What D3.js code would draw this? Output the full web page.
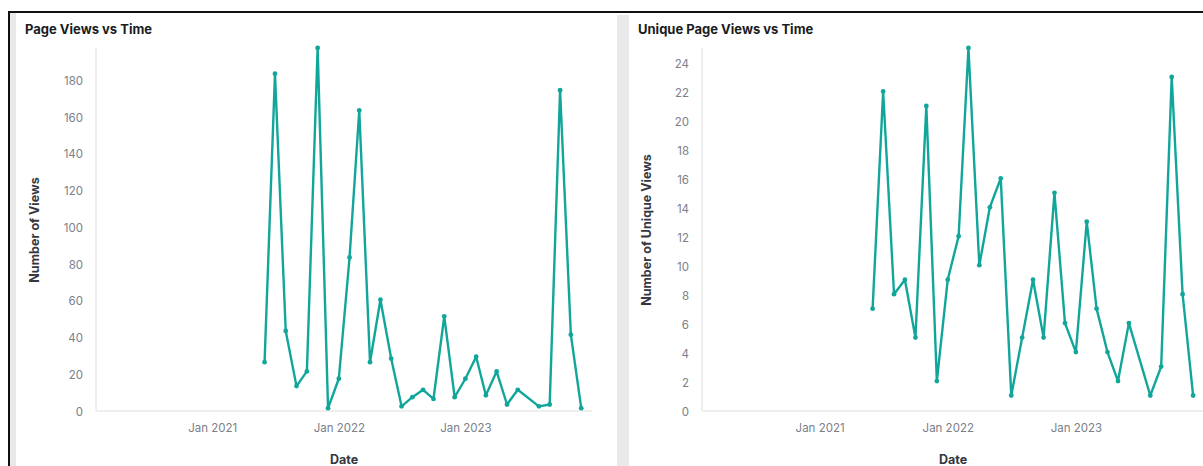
<!DOCTYPE html>
<html>
<head>
<meta charset="utf-8">
<script src="https://cdn.jsdelivr.net/npm/d3@7"></script>
<style>
  html, body { margin: 0; padding: 0; background: #fff; }
  svg { display: block; font-family: Inter, "Noto Sans", sans-serif; }
</style>
</head>
<body>
<svg id="chart" width="1203" height="466"></svg>
<script>
// ---- data ----
const months = [
  "2021-06","2021-07","2021-08","2021-09","2021-10","2021-11","2021-12",
  "2022-01","2022-02","2022-03","2022-04","2022-05","2022-06","2022-07",
  "2022-08","2022-09","2022-10","2022-11","2022-12","2023-01","2023-02",
  "2023-03","2023-04","2023-05","2023-06",
  "2023-08","2023-09","2023-10","2023-11","2023-12"
];
const pageViews = [
  26, 183, 43, 13, 21, 197, 1,
  17, 83, 163, 26, 60, 28, 2,
  7, 11, 6, 51, 7, 17, 29,
  8, 21, 3, 11,
  2, 3, 174, 41, 1
];
const uniqueViews = [
  7, 22, 8, 9, 5, 21, 2,
  9, 12, 25, 10, 14, 16, 1,
  5, 9, 5, 15, 6, 4, 13,
  7, 4, 2, 6,
  1, 3, 23, 8, 1
];
const xDomain = ["2020-02-01", "2024-01-01"];
const xTickDates = ["2021-01-01", "2022-01-01", "2023-01-01"];
const pvTicks = [0, 20, 40, 60, 80, 100, 120, 140, 160, 180];
const uvTicks = [0, 2, 4, 6, 8, 10, 12, 14, 16, 18, 20, 22, 24];

const parseMonth = d3.timeParse("%Y-%m");
const parseDay = d3.timeParse("%Y-%m-%d");
const fmt = d3.timeFormat("%b %Y");
const teal = "#12a69b";

const svg = d3.select("#chart");

// frame / backgrounds
svg.append("rect").attr("x", 10).attr("y", 13).attr("width", 6).attr("height", 453).attr("fill", "#e9e9ec");
svg.append("rect").attr("x", 617).attr("y", 15).attr("width", 12).attr("height", 451).attr("fill", "#e9e9ec");
svg.append("rect").attr("x", 16).attr("y", 15).attr("width", 601).attr("height", 470).attr("rx", 6).attr("fill", "#fff");
svg.append("rect").attr("x", 629).attr("y", 15).attr("width", 600).attr("height", 470).attr("rx", 6).attr("fill", "#fff");
svg.append("line").attr("x1", 8).attr("x2", 1203).attr("y1", 12).attr("y2", 12).attr("stroke", "#111").attr("stroke-width", 2);
svg.append("line").attr("x1", 9).attr("x2", 9).attr("y1", 11).attr("y2", 466).attr("stroke", "#111").attr("stroke-width", 2);

function drawPanel(cfg) {
  const g = svg.append("g");
  const x = d3.scaleTime().domain(xDomain.map(parseDay)).range([cfg.x0, cfg.x1]);
  const y = d3.scaleLinear().domain([0, cfg.yMax]).range([410, 48]);

  g.append("text").attr("x", cfg.titleX).attr("y", 34)
    .attr("font-size", 13).attr("font-weight", 700).attr("fill", "#1a1c21")
    .text(cfg.title);

  // axis lines
  g.append("line").attr("x1", cfg.x0).attr("x2", cfg.x0).attr("y1", 48).attr("y2", 411)
    .attr("stroke", "#eeeeee").attr("stroke-width", 2);
  g.append("line").attr("x1", cfg.x0).attr("x2", cfg.x1).attr("y1", 411).attr("y2", 411)
    .attr("stroke", "#eeeeee").attr("stroke-width", 2);

  // y axis
  const ya = g.append("g").attr("transform", `translate(${cfg.x0 - 13},1.5)`)
    .call(d3.axisLeft(y).tickValues(cfg.ticks).tickSize(0).tickPadding(0));
  ya.select(".domain").remove();
  ya.selectAll("text").attr("font-size", 11.5).attr("fill", "#7b808a").attr("font-family", "Inter, sans-serif");

  // x axis
  const xa = g.append("g").attr("transform", "translate(0,424)")
    .call(d3.axisBottom(x).tickValues(xTickDates.map(parseDay)).tickFormat(fmt).tickSize(0).tickPadding(0));
  xa.select(".domain").remove();
  xa.selectAll("text").attr("font-size", 11.5).attr("fill", "#7b808a").attr("font-family", "Inter, sans-serif");

  // axis titles
  g.append("text").attr("transform", `translate(${cfg.yTitleX},230) rotate(-90)`)
    .attr("text-anchor", "middle").attr("font-size", 12.5).attr("font-weight", 700).attr("fill", "#343741")
    .text(cfg.yTitle);
  g.append("text").attr("x", (cfg.x0 + cfg.x1) / 2).attr("y", 464)
    .attr("text-anchor", "middle").attr("font-size", 12.5).attr("font-weight", 700).attr("fill", "#343741")
    .text("Date");

  const data = months.map((m, i) => ({ d: parseMonth(m), v: cfg.values[i] }));
  g.append("path").datum(data)
    .attr("fill", "none").attr("stroke", teal).attr("stroke-width", 2.4).attr("stroke-linejoin", "round")
    .attr("d", d3.line().x(d => x(d.d)).y(d => y(d.v)));
  g.selectAll("circle").data(data).join("circle")
    .attr("cx", d => x(d.d)).attr("cy", d => y(d.v)).attr("r", 2.4).attr("fill", teal);
}

drawPanel({ title: "Page Views vs Time", titleX: 25, x0: 96, x1: 592, yMax: 197,
  ticks: pvTicks, values: pageViews, yTitle: "Number of Views", yTitleX: 39 });
drawPanel({ title: "Unique Page Views vs Time", titleX: 638, x0: 702, x1: 1204, yMax: 25,
  ticks: uvTicks, values: uniqueViews, yTitle: "Number of Unique Views", yTitleX: 651 });
</script>
</body>
</html>
